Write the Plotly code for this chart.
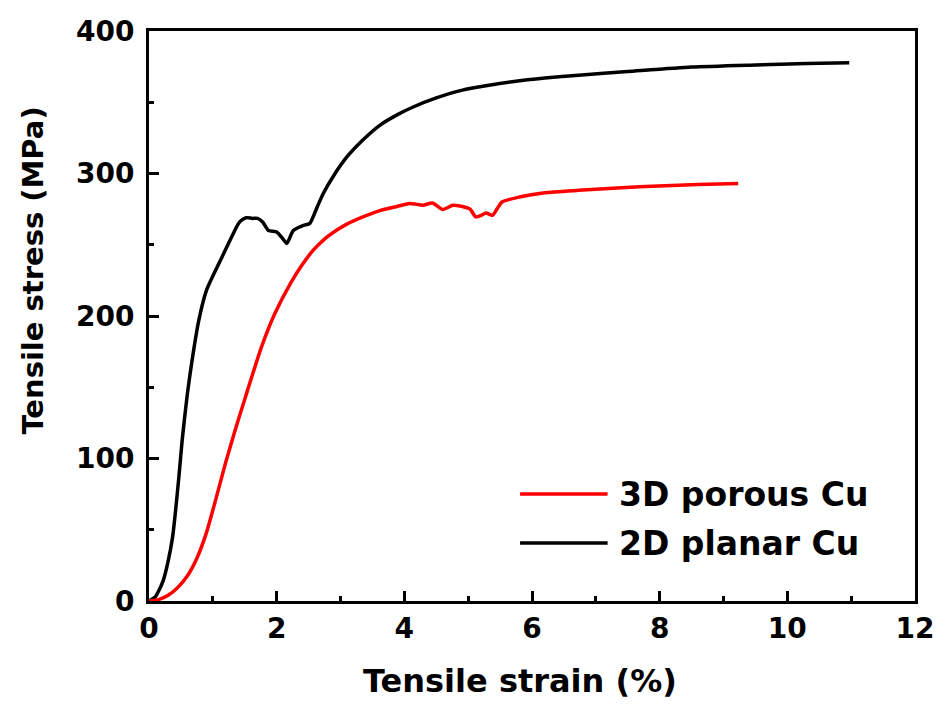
import plotly.graph_objects as go

# ---- data ----
planar_strain = [0, 0.1, 0.135, 0.22, 0.3, 0.37, 0.42, 0.47, 0.52, 0.6, 0.675, 0.78, 0.9, 1.0,
                 1.15, 1.3, 1.42, 1.52, 1.62, 1.70, 1.78, 1.87, 2.0, 2.1, 2.16, 2.26, 2.42,
                 2.52, 2.63, 2.73, 2.9, 3.1, 3.35, 3.62, 3.9, 4.13, 4.5, 4.91, 5.3, 5.69,
                 6.2, 6.73, 7.5, 8.5, 9.5, 10.3, 10.97]
planar_stress = [0, 3, 5.6, 14, 28, 45, 65, 88, 113, 145, 169, 197, 218, 228,
                 242, 256, 266, 269, 268.5, 268.5, 266, 260, 259, 254, 251, 260, 263.6,
                 265, 276, 286, 299, 311.6, 323.5, 334, 341.5, 346.5, 353, 358.5, 361.7, 364.4,
                 367, 369, 371.5, 374.7, 376.2, 377.2, 377.7]

porous_strain = [0, 0.15, 0.3, 0.45, 0.6, 0.75, 0.9, 1.05, 1.2, 1.35, 1.51, 1.76, 1.97, 2.23,
                 2.4, 2.57, 2.75, 2.95, 3.1, 3.35, 3.62, 3.85, 4.08, 4.18, 4.29, 4.44, 4.6,
                 4.76, 4.94, 5.03, 5.12, 5.2, 5.28, 5.38, 5.45, 5.53, 5.8, 6.2, 6.73, 7.4,
                 7.98, 8.6, 9.23]
porous_stress = [0, 1.0, 4, 9.5, 17.5, 30, 48, 72, 97, 120, 143, 178, 201.6, 224,
                 236, 246, 254, 260.5, 264.5, 269.5, 274, 276.5, 279, 278.5, 277.7, 279.3, 274.8,
                 277.7, 276.5, 275, 269.5, 270.5, 272.3, 270.6, 275, 280, 283.5, 286.5, 288.2, 290,
                 291.3, 292.3, 293]

x_ticks = [0, 2, 4, 6, 8, 10, 12]
y_ticks = [0, 100, 200, 300, 400]
series_names = ["3D porous Cu", "2D planar Cu"]
series_colors = ["#ff0000", "#000000"]
x_title = "Tensile strain (%)"
y_title = "Tensile stress (MPa)"

FONT = "DejaVu Sans"

fig = go.Figure()
fig.add_trace(go.Scatter(x=planar_strain, y=planar_stress, mode="lines",
                         line=dict(color=series_colors[1], width=3.5, shape="spline", smoothing=0.6),
                         name=series_names[1], showlegend=False))
fig.add_trace(go.Scatter(x=porous_strain, y=porous_stress, mode="lines",
                         line=dict(color=series_colors[0], width=3.5, shape="spline", smoothing=0.6),
                         name=series_names[0], showlegend=False))

L, R, T, B = 149, 27, 31, 103
W, H = 946 - L - R, 704 - T - B
def px2paper_x(px):
    return (px - L) / W
def px2paper_y(py):
    return (704 - B - py) / H

# manual legend (long line samples like the reference)
legend_rows = [494, 543]
for name, color, py in zip(series_names, series_colors, legend_rows):
    fig.add_shape(type="line", xref="paper", yref="paper",
                  x0=px2paper_x(522), x1=px2paper_x(610),
                  y0=px2paper_y(py), y1=px2paper_y(py),
                  line=dict(color=color, width=3.5))
    fig.add_annotation(xref="paper", yref="paper", x=px2paper_x(619), y=px2paper_y(py),
                       text=name, showarrow=False, xanchor="left", yanchor="middle",
                       font=dict(family=FONT, size=33, color="black", weight="bold"))

# axis titles placed like the reference
fig.add_annotation(xref="paper", yref="paper", x=px2paper_x(522), y=px2paper_y(681),
                   text=x_title, showarrow=False, xanchor="center", yanchor="middle",
                   font=dict(family=FONT, size=32, color="black", weight="bold"))
fig.add_annotation(xref="paper", yref="paper", x=px2paper_x(32), y=px2paper_y(271),
                   text=y_title, showarrow=False, xanchor="center", yanchor="middle",
                   textangle=-90,
                   font=dict(family=FONT, size=29, color="black", weight="bold"))

axis_common = dict(showline=True, linecolor="black", linewidth=3, mirror=True,
                   ticks="inside", ticklen=10, tickwidth=3, tickcolor="black",
                   showgrid=False, zeroline=False,
                   tickfont=dict(family=FONT, size=28, color="black", weight="bold"))

fig.update_xaxes(range=[0, 12], tickvals=x_ticks,
                 minor=dict(ticks="inside", ticklen=5, tickwidth=3, tickcolor="black", dtick=1, tick0=0),
                 **axis_common)
fig.update_yaxes(range=[0, 400], tickvals=y_ticks, ticklabelstandoff=6,
                 minor=dict(ticks="inside", ticklen=5, tickwidth=3, tickcolor="black", dtick=50, tick0=0),
                 **axis_common)

fig.update_layout(width=946, height=704, margin=dict(l=L, r=R, t=T, b=B),
                  paper_bgcolor="white", plot_bgcolor="white", showlegend=False)

fig.write_html("out.html")
